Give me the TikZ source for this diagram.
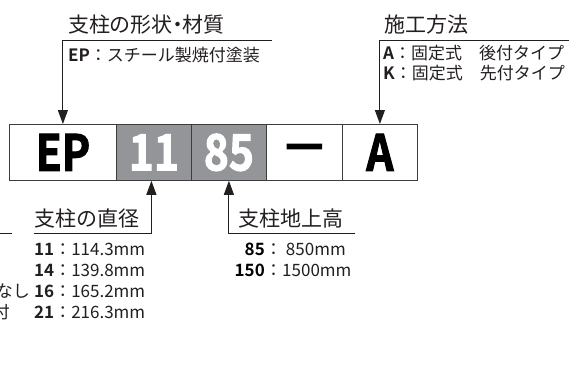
\documentclass[tikz,border=0pt]{standalone}
\usepackage{fontspec}
\setmainfont{Noto Sans CJK JP}[BoldFont={Noto Sans CJK JP Bold}]
\newfontfamily\bigfont{Noto Sans CJK JP Bold}[FakeStretch=0.85,FakeBold=2]
\newfontfamily\paltfont{Noto Sans CJK JP}[RawFeature=+palt]
\usetikzlibrary{arrows.meta}
\definecolor{ink}{HTML}{231F20}
\definecolor{cellgray}{HTML}{939598}
\definecolor{cellline}{HTML}{3C3C3C}
\tikzset{
  head/.style={font=\fontsize{21}{21}\selectfont, text=ink, inner sep=0pt, anchor=base west},
  item/.style={font=\fontsize{17}{17}\selectfont, text=ink, inner sep=0pt, anchor=base west},
  numr/.style={font=\fontsize{17}{17}\selectfont\bfseries, text=black, inner sep=0pt, anchor=base east},
  cell/.style={draw=cellline, line width=0.8pt, minimum height=56pt, inner sep=0pt, anchor=north west,
    font=\bigfont\fontsize{50}{50}\selectfont},
  graycell/.style={cell, fill=cellgray, text=white},
  leader/.style={draw=ink, line width=1pt},
  tipped/.style={leader, -{Triangle[width=10pt,length=14pt]}}
}
\begin{document}
\begin{tikzpicture}[x=1pt,y=-1pt]
\useasboundingbox (0,0) rectangle (569,383);
\clip (0,0) rectangle (569,383);
\fill[white] (0,0) rectangle (569,383);

% code cells
\node[cell, minimum width=107pt] (cEP) at (9,124) {EP};
\node[graycell, minimum width=75pt] (c11) at (116,124) {11};
\node[graycell, minimum width=75pt] (c85) at (191,124) {85};
\node[cell, minimum width=76pt] (cDash) at (266,124) {—};
\node[cell, minimum width=75pt] (cA) at (342,124) {A};

% top left: shape/material
\node[head, font=\paltfont\fontsize{21}{21}\selectfont] (hShape) at (68,32) {支柱の形状・材質};
\node[item] (iEP) at (68,61) {\textbf{EP}：スチール製焼付塗装};
\coordinate (e1) at (272,40);
\draw[tipped] (e1) -| (cEP.north);

% top right: installation method
\node[head] (hMethod) at (384,32) {施工方法};
\node[item] (iA) at (383,59) {\textbf{A}：固定式　後付タイプ};
\node[item] (iK) at (383,79) {\textbf{K}：固定式　先付タイプ};
\coordinate (e2) at (569,40);
\draw[tipped] (e2) -| (cA.north);

% bottom: diameter
\node[head] (hDia) at (34,226) {支柱の直径};
\coordinate (e3) at (34,233);
\draw[tipped] (e3) -| ([xshift=-2.5pt]c11.south);
\node[item] (d1) at (34,255) {\textbf{11}：114.3mm};
\node[item] (d2) at (34,276) {\textbf{14}：139.8mm};
\node[item] (d3) at (34,297) {\textbf{16}：165.2mm};
\node[item] (d4) at (34,318) {\textbf{21}：216.3mm};

% bottom: height above ground
\node[head] (hHt) at (238,226) {支柱地上高};
\coordinate (e4) at (355,233);
\draw[tipped] (e4) -| (c85.south);
\node[numr] (n85) at (265,255) {85};
\node[item] (v85) at (265,255) {： 850mm};
\node[numr] (n150) at (265,276) {150};
\node[item] (v150) at (265,276) {：1500mm};

% cut-off neighbour at the left edge
\coordinate (s1) at (0,233);
\coordinate (s2) at (12,233);
\draw[leader] (s1) -- (s2);
\node[item, anchor=base east] (cutA) at (30,297) {なし};
\node[item, anchor=base east] (cutB) at (10,318) {付};
\end{tikzpicture}
\end{document}
